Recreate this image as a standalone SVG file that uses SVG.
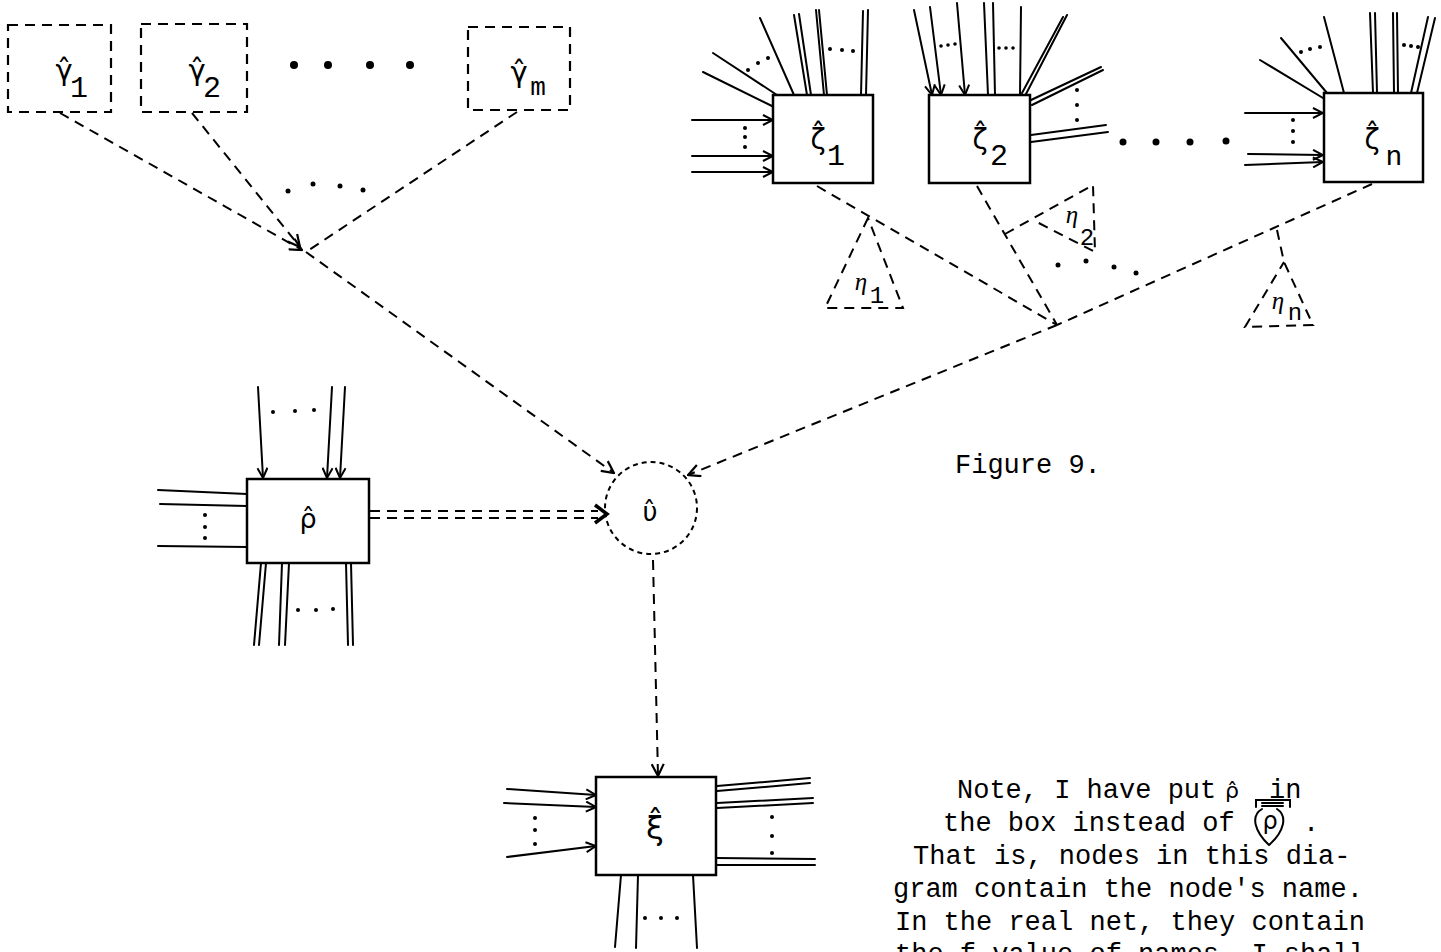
<svg xmlns="http://www.w3.org/2000/svg" width="1441" height="952" viewBox="0 0 1441 952">
<style>
.s{stroke:#000;stroke-width:2;fill:none;stroke-linecap:round}
.d{stroke:#000;stroke-width:2;fill:none;stroke-dasharray:10 7}
.box{fill:#fff;stroke:#000;stroke-width:2.5}
.dbox{fill:none;stroke:#000;stroke-width:2.2;stroke-dasharray:10 7}
.g{font-family:"DejaVu Sans",sans-serif;text-anchor:middle;fill:#000}
.eta{font-family:"Liberation Serif",serif;font-style:italic;text-anchor:middle;fill:#000}
.sub{font-family:"Liberation Mono",monospace;text-anchor:middle;fill:#000}
.txt{font-family:"Liberation Mono",monospace;font-size:27px;fill:#000}
.dot{fill:#000}
</style>
<defs>
<marker id="a" viewBox="0 0 12 12" refX="11" refY="6" markerWidth="12" markerHeight="12" markerUnits="userSpaceOnUse" orient="auto"><path d="M1,1 L11,6 L1,11" fill="none" stroke="#000" stroke-width="2" stroke-dasharray="none"/></marker>
<marker id="b" viewBox="0 0 14 14" refX="13" refY="7" markerWidth="14" markerHeight="14" markerUnits="userSpaceOnUse" orient="auto"><path d="M1,1 L13,7 L1,13" fill="none" stroke="#000" stroke-width="2.2" stroke-dasharray="none"/></marker>
</defs>
<rect width="1441" height="952" fill="#fff"/>

<g id="connectors">
  <path class="d" d="M60,113 L302,250" marker-end="url(#b)"/>
  <path class="d" d="M192,113 L300,247" marker-end="url(#b)"/>
  <path class="d" d="M517,112 L306,252"/>
  <path class="d" d="M306,252 L614,473" marker-end="url(#b)"/>
  <path class="d" d="M817,186 L1057,325"/>
  <path class="d" d="M977,186 L1057,325"/>
  <path class="d" d="M1372,184 L1057,325"/>
  <path class="d" d="M1057,325 L688,475" marker-end="url(#b)"/>
  <path class="d" d="M868,218 L825,308 L903,308 Z"/>
  <path class="d" d="M1005,234 L1093,185 L1095,252 L1033,220"/>
  <path class="d" d="M1277,230 L1284,262 L1313,325 L1245,327 L1284,262"/>
  <path class="d" d="M370,511 L598,511"/>
  <path class="d" d="M370,518 L598,518"/>
  <path d="M595,505 L607,514 L595,523" fill="none" stroke="#000" stroke-width="3.5"/>
  <path class="d" d="M653,560 L658,776" marker-end="url(#b)"/>

  <path class="s" d="M258,387 L263,478" marker-end="url(#a)"/>
  <path class="s" d="M332,387 L327,478" marker-end="url(#a)"/>
  <path class="s" d="M345,387 L340,478" marker-end="url(#a)"/>
  <path class="s" d="M158,490 L247,494 M160,504 L247,506 M158,546 L247,547"/>
  <path class="s" d="M261,563 L254,645 M266,563 L259,645 M282,563 L279,645 M289,563 L285,645 M346,563 L348,645 M351,563 L353,645"/>

  <path class="s" d="M507,789 L596,795" marker-end="url(#a)"/>
  <path class="s" d="M504,803 L596,807" marker-end="url(#a)"/>
  <path class="s" d="M507,857 L596,846" marker-end="url(#a)"/>
  <path class="s" d="M717,786 L810,778 M717,791 L810,783 M717,803 L813,798 M717,808 L813,803 M717,858 L815,859 M717,865 L815,865"/>
  <path class="s" d="M621,875 L615,947 M638,875 L636,948 M693,875 L697,948"/>

  <path class="s" d="M692,120 L773,120" marker-end="url(#a)"/>
  <path class="s" d="M692,156 L773,156" marker-end="url(#a)"/>
  <path class="s" d="M692,172 L773,172" marker-end="url(#a)"/>
  <path class="s" d="M703,72 L774,107 M713,53 L777,95 M760,18 L794,95 M794,15 L807,95 M799,14 L811,95 M816,10 L824,95 M819,10 L827,95 M863,11 L861,95 M868,10 L866,95"/>

  <path class="s" d="M914,10 L932,95" marker-end="url(#a)"/>
  <path class="s" d="M930,7 L941,95" marker-end="url(#a)"/>
  <path class="s" d="M957,3 L965,95" marker-end="url(#a)"/>
  <path class="s" d="M984,3 L988,95 M993,3 L995,95 M1021,7 L1020,95 M1022,93 L1063,17 M1026,94 L1067,15 M1031,100 L1101,67 M1032,105 L1103,70 M1031,135 L1106,125 M1031,142 L1108,132"/>

  <path class="s" d="M1245,113 L1323,113" marker-end="url(#a)"/>
  <path class="s" d="M1248,154 L1323,155" marker-end="url(#a)"/>
  <path class="s" d="M1245,165 L1323,162" marker-end="url(#a)"/>
  <path class="s" d="M1260,60 L1323,98 M1281,38 L1327,93 M1324,17 L1344,93 M1370,13 L1373,93 M1375,13 L1377,93 M1393,13 L1394,93 M1397,13 L1398,93 M1428,17 L1411,93 M1435,18 L1417,93"/>
</g>

<g id="ellipses">
  <circle class="dot" cx="294" cy="65" r="4"/><circle class="dot" cx="328" cy="65" r="4"/><circle class="dot" cx="370" cy="65" r="4"/><circle class="dot" cx="410" cy="65" r="4"/>
  <circle class="dot" cx="288" cy="191" r="2.5"/><circle class="dot" cx="313" cy="184" r="2.5"/><circle class="dot" cx="340" cy="186" r="2.5"/><circle class="dot" cx="363" cy="190" r="2.5"/>
  <circle class="dot" cx="1123" cy="142" r="3.5"/><circle class="dot" cx="1156" cy="142" r="3.5"/><circle class="dot" cx="1190" cy="142" r="3.5"/><circle class="dot" cx="1226" cy="141" r="3.5"/>
  <circle class="dot" cx="1058" cy="265" r="2.5"/><circle class="dot" cx="1086" cy="261" r="2.5"/><circle class="dot" cx="1114" cy="267" r="2.5"/><circle class="dot" cx="1136" cy="273" r="2.5"/>
  <circle class="dot" cx="273" cy="412" r="2"/><circle class="dot" cx="295" cy="411" r="2"/><circle class="dot" cx="314" cy="410" r="2"/>
  <circle class="dot" cx="205" cy="515" r="2"/><circle class="dot" cx="205" cy="527" r="2"/><circle class="dot" cx="205" cy="538" r="2"/>
  <circle class="dot" cx="298" cy="610" r="2"/><circle class="dot" cx="316" cy="610" r="2"/><circle class="dot" cx="333" cy="609" r="2"/>
  <circle class="dot" cx="535" cy="818" r="2"/><circle class="dot" cx="535" cy="830" r="2"/><circle class="dot" cx="535" cy="844" r="2"/>
  <circle class="dot" cx="772" cy="817" r="2"/><circle class="dot" cx="772" cy="836" r="2"/><circle class="dot" cx="772" cy="853" r="2"/>
  <circle class="dot" cx="645" cy="918" r="2"/><circle class="dot" cx="661" cy="918" r="2"/><circle class="dot" cx="677" cy="918" r="2"/>
  <circle class="dot" cx="745" cy="128" r="2"/><circle class="dot" cx="745" cy="137" r="2"/><circle class="dot" cx="745" cy="147" r="2"/>
  <circle class="dot" cx="748" cy="70" r="2"/><circle class="dot" cx="758" cy="63" r="2"/><circle class="dot" cx="768" cy="58" r="2"/>
  <circle class="dot" cx="830" cy="49" r="2"/><circle class="dot" cx="842" cy="50" r="2"/><circle class="dot" cx="853" cy="51" r="2"/>
  <circle class="dot" cx="941" cy="46" r="1.8"/><circle class="dot" cx="948" cy="45" r="1.8"/><circle class="dot" cx="955" cy="44" r="1.8"/>
  <circle class="dot" cx="999" cy="48" r="1.8"/><circle class="dot" cx="1006" cy="48" r="1.8"/><circle class="dot" cx="1013" cy="48" r="1.8"/>
  <circle class="dot" cx="1077" cy="90" r="2"/><circle class="dot" cx="1077" cy="105" r="2"/><circle class="dot" cx="1077" cy="120" r="2"/>
  <circle class="dot" cx="1293" cy="120" r="2"/><circle class="dot" cx="1293" cy="131" r="2"/><circle class="dot" cx="1293" cy="142" r="2"/>
  <circle class="dot" cx="1301" cy="52" r="2"/><circle class="dot" cx="1310" cy="49" r="2"/><circle class="dot" cx="1320" cy="47" r="2"/>
  <circle class="dot" cx="1404" cy="45" r="2"/><circle class="dot" cx="1411" cy="46" r="2"/><circle class="dot" cx="1418" cy="47" r="2"/>
</g>

<g id="gamma1">
  <rect class="dbox" x="8" y="25" width="103" height="87"/>
  <text class="g" x="64" y="80" font-size="29">γ̂</text>
  <text class="sub" x="79" y="97" font-size="30">1</text>
</g>
<g id="gamma2">
  <rect class="dbox" x="141" y="24" width="106" height="88"/>
  <text class="g" x="197" y="80" font-size="29">γ̂</text>
  <text class="sub" x="212" y="97" font-size="30">2</text>
</g>
<g id="gammam">
  <rect class="dbox" x="468" y="27" width="102" height="83"/>
  <text class="g" x="519" y="82" font-size="29">γ̂</text>
  <text class="sub" x="538" y="95" font-size="26">m</text>
</g>

<g id="zeta1">
  <rect class="box" x="773" y="95" width="100" height="88"/>
  <text class="g" x="818" y="149" font-size="28">ζ̂</text>
  <text class="sub" x="836" y="165" font-size="30">1</text>
</g>
<g id="zeta2">
  <rect class="box" x="929" y="95" width="101" height="88"/>
  <text class="g" x="980" y="149" font-size="28">ζ̂</text>
  <text class="sub" x="999" y="165" font-size="30">2</text>
</g>
<g id="zetan">
  <rect class="box" x="1324" y="93" width="99" height="89"/>
  <text class="g" x="1372" y="149" font-size="28">ζ̂</text>
  <text class="sub" x="1394" y="165" font-size="28">n</text>
</g>

<g id="eta1">
  <text class="eta" x="861" y="290" font-size="25">η</text>
  <text class="sub" x="877" y="303" font-size="24">1</text>
</g>
<g id="eta2">
  <text class="eta" x="1072" y="223" font-size="25">η</text>
  <text class="sub" x="1087" y="245" font-size="24">2</text>
</g>
<g id="etan">
  <text class="eta" x="1278" y="309" font-size="25">η</text>
  <text class="sub" x="1295" y="320" font-size="24">n</text>
</g>

<g id="rho">
  <rect class="box" x="247" y="479" width="122" height="84"/>
  <text class="g" x="308" y="528" font-size="27">ρ̂</text>
</g>

<g id="upsilon">
  <circle cx="651" cy="508" r="46" fill="none" stroke="#000" stroke-width="2" stroke-dasharray="5 4"/>
  <text class="g" x="650" y="521" font-size="26">υ̂</text>
</g>

<g id="xi">
  <rect class="box" x="596" y="777" width="120" height="98"/>
  <text class="g" x="655" y="839" font-size="32">ξ̂</text>
</g>

<g id="caption">
  <text class="txt" x="955" y="473">Figure 9.</text>
</g>

<g id="note">
  <text class="txt" x="957" y="798">Note, I have put</text>
  <text class="g" x="1232" y="798" font-size="22">ρ̂</text>
  <text class="txt" x="1269" y="798">in</text>
  <path class="s" d="M1256,807 L1256,800 L1290,800 L1290,807" stroke-width="1.8"/>
  <path class="s" d="M1262,803 L1283,803 M1262,806 L1283,806" stroke-width="1.6"/>
  <text class="txt" x="943" y="831">the box instead of</text>
  <text class="g" x="1270" y="829" font-size="24">ρ</text>
  <path class="s" d="M1262,809 C1250,816 1255,832 1269,845 C1284,832 1288,816 1277,809" stroke-width="1.8"/>
  <text class="txt" x="1303" y="831">.</text>
  <text class="txt" x="913" y="864">That is, nodes in this dia-</text>
  <text class="txt" x="893" y="897">gram contain the node's name.</text>
  <text class="txt" x="895" y="930">In the real net, they contain</text>
  <text class="txt" x="895" y="962">the f-value of names. I shall</text>
</g>
</svg>
